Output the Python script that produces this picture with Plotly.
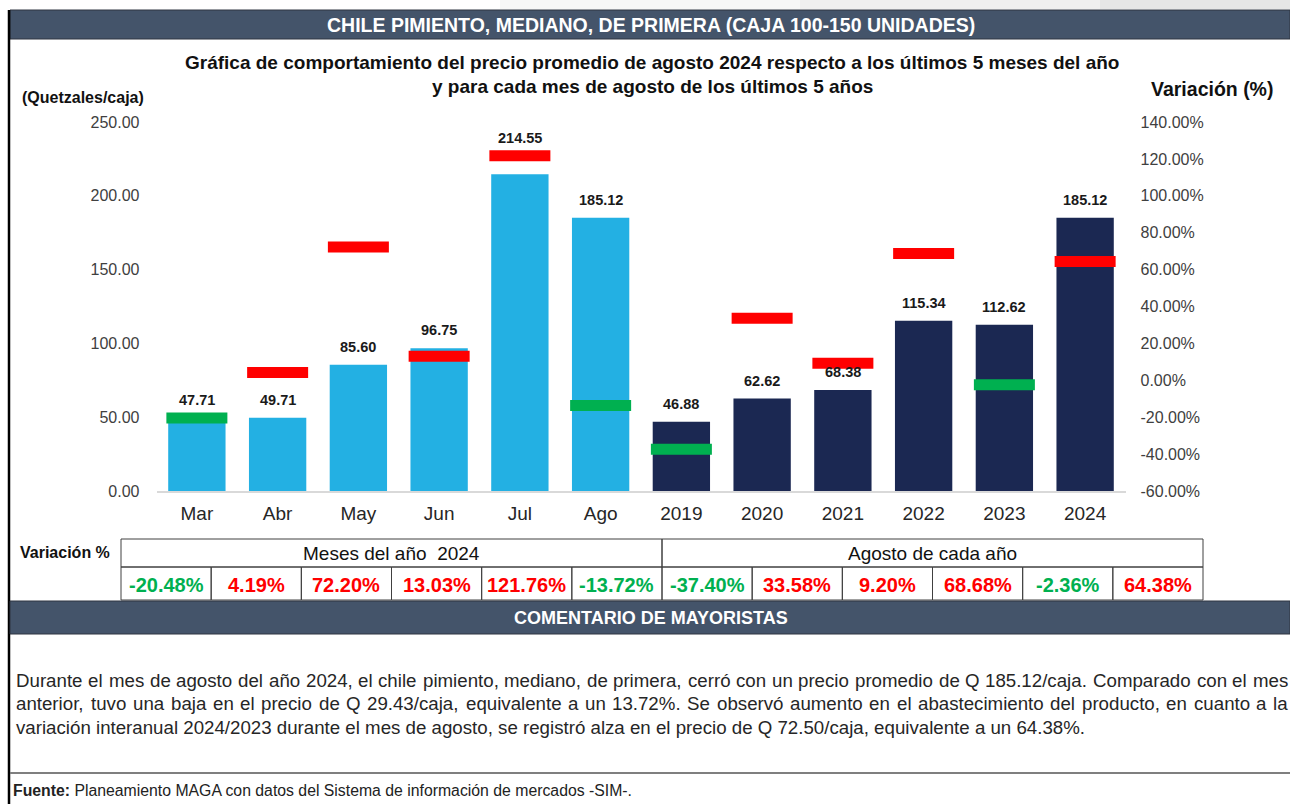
import plotly.graph_objects as go

W, H = 1290, 804

# ---------------- data ----------------
categories = ["Mar", "Abr", "May", "Jun", "Jul", "Ago",
              "2019", "2020", "2021", "2022", "2023", "2024"]
prices = [47.71, 49.71, 85.60, 96.75, 214.55, 185.12,
          46.88, 62.62, 68.38, 115.34, 112.62, 185.12]
variation = [-20.48, 4.19, 72.20, 13.03, 121.76, -13.72,
             -37.40, 33.58, 9.20, 68.68, -2.36, 64.38]
period = ["mes"] * 6 + ["anio"] * 6
y_ticks = [0, 50, 100, 150, 200, 250]
y2_ticks = [-60, -40, -20, 0, 20, 40, 60, 80, 100, 120, 140]
group_titles = ["Meses del año  2024", "Agosto de cada año"]

title_main = "CHILE PIMIENTO, MEDIANO, DE PRIMERA (CAJA 100-150 UNIDADES)"
title_chart = ["Gráfica de comportamiento del precio promedio de agosto 2024 respecto a los últimos 5 meses del año",
               "y para cada mes de agosto de los últimos 5 años"]
comment_title = "COMENTARIO DE MAYORISTAS"
comment_lines = [
    "Durante el mes de agosto del año 2024, el chile pimiento, mediano, de primera, cerró con un precio promedio de Q 185.12/caja. Comparado con el mes",
    "anterior, tuvo una baja en el precio de Q 29.43/caja, equivalente a un 13.72%. Se observó aumento en el abastecimiento del producto, en cuanto a la",
    "variación interanual 2024/2023 durante el mes de agosto, se registró alza en el precio de Q 72.50/caja, equivalente a un 64.38%.",
]
source_bold = "Fuente:"
source_text = " Planeamiento MAGA con datos del Sistema de información de mercados -SIM-."

# ---------------- styles ----------------
FONT = "Liberation Sans, Arial, sans-serif"
SLATE = "#44546A"
LIGHT = "#23B0E3"
NAVY = "#1B2852"
RED = "#FF0000"
GREEN = "#00B050"

bar_colors = [LIGHT if p == "mes" else NAVY for p in period]
mark_colors = [RED if v > 0 else GREEN for v in variation]


def px(x):
    return x / W


def py(y):
    return 1 - y / H


# Arial / Helvetica advance widths (1/1000 em)
WID = {" ": 278, "%": 889, "(": 333, ")": 333, ",": 278, "-": 333, ".": 278, "/": 278, ":": 278}
for c in "0123456789":
    WID[c] = 556
WID.update(dict(zip("ABCDEFGHIJKLMNOPQRSTUVWXYZ",
                    [667, 667, 722, 722, 667, 611, 778, 722, 278, 500, 667, 556, 833, 722, 778, 667, 778, 722, 667, 611, 722, 667, 944, 667, 667, 611])))
WID.update(dict(zip("abcdefghijklmnopqrstuvwxyz",
                    [556, 556, 500, 556, 556, 278, 556, 556, 222, 222, 500, 222, 833, 556, 556, 556, 556, 333, 500, 278, 556, 500, 722, 500, 500, 500])))
WID.update({"á": 556, "é": 556, "í": 278, "ó": 556, "ú": 556, "ñ": 556})


def tw(s, fs):
    return sum(WID.get(c, 556) for c in s) * fs / 1000.0


def note(x, y, text, size, color="#111", xanchor="center", **kw):
    return dict(x=px(x), y=py(y), xref="paper", yref="paper", text=text, showarrow=False,
                xanchor=xanchor, yanchor="middle", borderpad=0,
                font=dict(size=size, color=color, family=FONT), **kw)


fig = go.Figure()

fig.add_trace(go.Bar(
    x=categories, y=prices, marker=dict(color=bar_colors, line=dict(width=0)),
    width=0.71, hoverinfo="skip"))

fig.add_trace(go.Scatter(
    x=categories, y=variation, yaxis="y2", mode="markers",
    marker=dict(symbol="line-ew", size=61 / 1.4, line=dict(width=11, color=mark_colors)),
    hoverinfo="skip"))

annotations = []

# data labels (category index used as x so that year-like names stay categorical)
for i, (p, v) in enumerate(zip(prices, variation)):
    m = (v - y2_ticks[0]) * (y_ticks[-1] - y_ticks[0]) / (y2_ticks[-1] - y2_ticks[0])
    base = m if 0 < m - p < 15 else p
    annotations.append(dict(x=i, y=base, xref="x", yref="y", text=f"<b>{p:.2f}</b>",
                            showarrow=False, xanchor="center", yanchor="bottom", yshift=8,
                            font=dict(size=14.5, color="#1A1A1A", family=FONT)))

shapes = []
# top shadow strip
for x0, x1, col in [(500, 800, "#F7F7F7"), (800, 1100, "#EFEFEF"), (1100, 1290, "#E6E6E6")]:
    shapes.append(dict(type="rect", xref="paper", yref="paper", x0=px(x0), x1=px(x1), y0=py(0), y1=py(9),
                       fillcolor=col, line=dict(width=0), layer="below"))
# header bar
shapes.append(dict(type="rect", xref="paper", yref="paper", x0=px(10), x1=px(1290), y0=py(10), y1=py(39),
                   fillcolor=SLATE, line=dict(color="#2E3440", width=1)))
annotations.append(note(651, 25, f"<b>{title_main}</b>", 19.5, "white"))

# left border
shapes.append(dict(type="line", xref="paper", yref="paper", x0=px(9), x1=px(9), y0=py(10), y1=py(804),
                   line=dict(color="black", width=2.5)))

# chart titles
annotations.append(note(652, 62, f"<b>{title_chart[0]}</b>", 19))
annotations.append(note(652, 86, f"<b>{title_chart[1]}</b>", 19))
annotations.append(note(83, 98, "<b>(Quetzales/caja)</b>", 16))
annotations.append(note(1212, 89, "<b>Variación (%)</b>", 19.5))

# table
TL, TR, T0, T1, T2 = 121, 1203, 539, 567, 600
n = len(categories)
cw = (TR - TL) / n
half = TL + cw * 6
annotations.append(note(65, 552, "<b>Variación %</b>", 16))
for i, (a, b) in enumerate([(TL, half), (half, TR)]):
    shapes.append(dict(type="rect", xref="paper", yref="paper", x0=px(a), x1=px(b), y0=py(T0), y1=py(T1),
                       line=dict(color="#404040", width=1)))
    annotations.append(note((a + b) / 2, (T0 + T1) / 2, group_titles[i], 19))
for i, v in enumerate(variation):
    a = TL + i * cw
    shapes.append(dict(type="rect", xref="paper", yref="paper", x0=px(a), x1=px(a + cw), y0=py(T1), y1=py(T2),
                       line=dict(color="#404040", width=1)))
    annotations.append(note(a + cw / 2, (T1 + T2) / 2 + 1, f"<b>{v:.2f}%</b>", 20, mark_colors[i]))

# comment bar
shapes.append(dict(type="rect", xref="paper", yref="paper", x0=px(10), x1=px(1290), y0=py(601), y1=py(634),
                   fillcolor=SLATE, line=dict(color="#2E3440", width=1)))
annotations.append(note(651, 618, f"<b>{comment_title}</b>", 18, "white"))

# comment text (justified)
CL, CR = 15, 1287
fs = 1070 / (sum(WID.get(c, 556) for c in comment_lines[2]) / 1000.0)
for li, (line, yc) in enumerate(zip(comment_lines, [680, 703.5, 727])):
    words = line.split(" ")
    if li < 2:
        total = sum(tw(w, fs) for w in words)
        gap = (CR - CL - total) / (len(words) - 1)
        x = CL
        for w in words:
            annotations.append(note(x, yc, w, fs, "#262626", xanchor="left"))
            x += tw(w, fs) + gap
    else:
        annotations.append(note(CL, yc, line, fs, "#262626", xanchor="left"))

# footer
shapes.append(dict(type="line", xref="paper", yref="paper", x0=px(10), x1=px(1290), y0=py(773), y1=py(773),
                   line=dict(color="#7F7F7F", width=2)))
annotations.append(note(12, 790, f"<b>{source_bold}</b>{source_text}", 15.8, "#222", xanchor="left"))

fig.update_layout(
    width=W, height=H, margin=dict(l=0, r=0, t=0, b=0, pad=0, autoexpand=False),
    paper_bgcolor="white", plot_bgcolor="white", showlegend=False,
    font=dict(family=FONT),
    bargap=0.29,
    xaxis=dict(domain=[px(156.5), px(1125.5)], type="category", range=[-0.5, n - 0.5],
               showline=True, linecolor="#D9D9D9", linewidth=2, showgrid=False, ticks="",
               tickfont=dict(size=19, color="#262626"), ticklabelstandoff=4, fixedrange=True,
               automargin=False),
    yaxis=dict(domain=[py(491), py(122)], range=[y_ticks[0], y_ticks[-1]], tickvals=y_ticks,
               ticktext=[f"{t:.2f}" for t in y_ticks], showgrid=False, zeroline=False, ticks="",
               tickfont=dict(size=16, color="#404040"), ticklabelstandoff=16, fixedrange=True,
               automargin=False),
    yaxis2=dict(overlaying="y", side="right", range=[y2_ticks[0], y2_ticks[-1]], tickvals=y2_ticks,
                ticktext=[f"{t:.2f}%" for t in y2_ticks], showgrid=False, zeroline=False, ticks="",
                tickfont=dict(size=16, color="#404040"), ticklabelstandoff=14, fixedrange=True,
                automargin=False),
    shapes=shapes, annotations=annotations,
)

fig.write_html("out.html", config={"displayModeBar": False},
               post_script="document.body.style.margin='0px';document.body.style.overflow='hidden';")
